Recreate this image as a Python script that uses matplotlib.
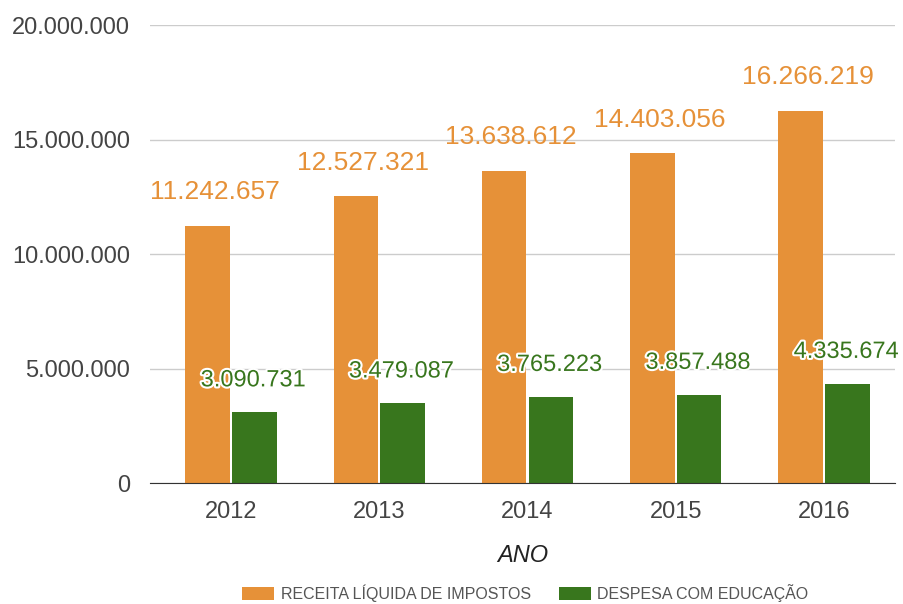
import matplotlib
matplotlib.use("Agg")
import matplotlib.pyplot as plt
import matplotlib.patheffects as pe
import numpy as np

anos = ["2012", "2013", "2014", "2015", "2016"]
receita = [11242657, 12527321, 13638612, 14403056, 16266219]
despesa = [3090731, 3479087, 3765223, 3857488, 4335674]

cor_receita = "#e69138"
cor_despesa = "#38761d"

def fmt(v):
    return "{:,}".format(int(v)).replace(",", ".")

plt.rcParams['font.family'] = ['Liberation Sans', 'DejaVu Sans']

fig = plt.figure(figsize=(9.04, 6.04), dpi=100)
ax = fig.add_axes([150/904, 1-483/604, 745/904, 458/604])

x = np.arange(len(anos))
w = 0.30
ax.bar(x - 0.158, receita, w, color=cor_receita, label="RECEITA LÍQUIDA DE IMPOSTOS", zorder=3)
ax.bar(x + 0.158, despesa, w, color=cor_despesa, label="DESPESA COM EDUCAÇÃO", zorder=3)

for i in range(len(anos)):
    ax.annotate(fmt(receita[i]), (x[i] - 0.11, receita[i]), xytext=(0, 15.5),
                textcoords="offset points", ha="center", va="bottom",
                fontsize=19, color=cor_receita, zorder=5)
    ax.annotate(fmt(despesa[i]), (x[i] + 0.15, despesa[i]), xytext=(0, 15),
                textcoords="offset points", ha="center", va="bottom",
                fontsize=17, color=cor_despesa, zorder=5,
                path_effects=[pe.withStroke(linewidth=3, foreground="white")])

ax.set_xlim(-0.546, 4.479)
ax.set_ylim(0, 20000000)
ax.set_yticks([0, 5000000, 10000000, 15000000, 20000000])
ax.set_yticklabels([fmt(v) for v in ax.get_yticks()])
ax.set_xticks(x)
ax.set_xticklabels(anos)
ax.tick_params(axis="both", length=0, labelsize=17, labelcolor="#444444")
ax.tick_params(axis="x", pad=13)
ax.tick_params(axis="y", pad=14.5)
ax.grid(axis="y", color="#cccccc", linewidth=1, zorder=0)
for s in ["top", "right", "left"]:
    ax.spines[s].set_visible(False)
ax.spines["bottom"].set_color("#333333")
ax.spines["bottom"].set_zorder(4)

ax.set_xlabel("ANO", fontsize=17, style="italic", color="#222222", labelpad=15)

fig.legend(loc="center", bbox_to_anchor=(0.581, 11/604), ncol=2, frameon=False,
           fontsize=11.5, labelcolor="#555555", handlelength=2.0, handleheight=0.8,
           columnspacing=1.75, handletextpad=0.4, borderpad=0)

fig.savefig("out.png", dpi=100)
